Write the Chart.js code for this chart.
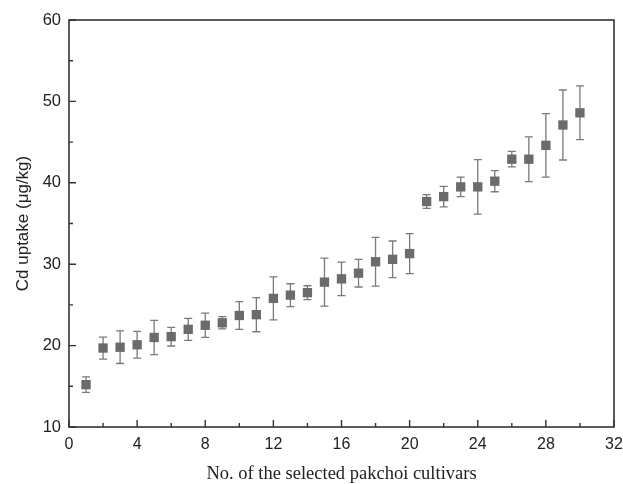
<!DOCTYPE html>
<html>
<head>
<title>Cd uptake of pakchoi cultivars</title>
<script src="https://cdn.jsdelivr.net/npm/chart.js@4.4.0/dist/chart.umd.min.js"></script>
<style>
body { margin:0; background:#fff; }
#wrap { width:623px; height:484px; }
</style>
</head>
<body>
<div id="wrap"><canvas id="c1"></canvas></div>
<script>
var cultivars = [1,2,3,4,5,6,7,8,9,10,11,12,13,14,15,16,17,18,19,20,21,22,23,24,25,26,27,28,29,30];
var uptake = [15.2,19.7,19.8,20.1,21.0,21.1,22.0,22.5,22.8,23.7,23.8,25.8,26.2,26.5,27.8,28.2,28.9,30.3,30.6,31.3,37.7,38.3,39.5,39.5,40.2,42.9,42.9,44.6,47.1,48.6];
var sd = [0.95,1.35,2.0,1.65,2.1,1.15,1.35,1.5,0.75,1.7,2.1,2.65,1.4,0.85,2.95,2.05,1.7,3.0,2.25,2.45,0.85,1.25,1.2,3.35,1.3,0.95,2.75,3.9,4.3,3.3];
var xTicks = [0,4,8,12,16,20,24,28,32];
var yTicks = [10,20,30,40,50,60];

var pts = [];
for (var i = 0; i < cultivars.length; i++) {
  pts.push({x: cultivars[i], y: uptake[i]});
}

// error bars, drawn under the squares
var errorBars = {
  id: 'errorBars',
  beforeDatasetsDraw: function(chart) {
    var ctx = chart.ctx, xs = chart.scales.x, ys = chart.scales.y;
    ctx.save();
    ctx.strokeStyle = '#7a7a7a';
    ctx.lineWidth = 1.3;
    for (var i = 0; i < cultivars.length; i++) {
      var px = xs.getPixelForValue(cultivars[i]);
      var top = ys.getPixelForValue(uptake[i] + sd[i]);
      var bot = ys.getPixelForValue(uptake[i] - sd[i]);
      ctx.beginPath();
      ctx.moveTo(px, top); ctx.lineTo(px, bot);
      ctx.moveTo(px - 4, top); ctx.lineTo(px + 4, top);
      ctx.moveTo(px - 4, bot); ctx.lineTo(px + 4, bot);
      ctx.stroke();
    }
    ctx.restore();
  }
};

// frame and inward ticks
var frame = {
  id: 'frame',
  afterDraw: function(chart) {
    var ctx = chart.ctx, a = chart.chartArea, xs = chart.scales.x, ys = chart.scales.y;
    ctx.save();
    ctx.strokeStyle = '#333';
    ctx.lineWidth = 1.6;
    ctx.strokeRect(a.left, a.top, a.right - a.left, a.bottom - a.top);
    ctx.lineWidth = 1.4;
    ctx.beginPath();
    for (var v = 0; v <= 32; v += 2) {
      var px = xs.getPixelForValue(v);
      var len = (v % 4 == 0) ? 7 : 4;
      ctx.moveTo(px, a.bottom); ctx.lineTo(px, a.bottom - len);
    }
    for (var w = 10; w <= 60; w += 5) {
      var py = ys.getPixelForValue(w);
      var len2 = (w % 10 == 0) ? 7 : 4;
      ctx.moveTo(a.left, py); ctx.lineTo(a.left + len2, py);
    }
    ctx.stroke();
    ctx.restore();
  }
};

var ctx = document.getElementById('c1').getContext('2d');
var chart = new Chart(ctx, {
  type: 'scatter',
  data: {
    datasets: [{
      label: 'Cd uptake',
      data: pts,
      pointStyle: 'rect',
      pointRadius: 6.6,
      pointHoverRadius: 6.6,
      backgroundColor: '#6b6b6d',
      borderColor: '#6b6b6d',
      borderWidth: 0
    }]
  },
  options: {
    responsive: true,
    maintainAspectRatio: false,
    animation: false,
    layout: { padding: { top: 20, right: 9, left: 0, bottom: 0 } },
    plugins: { legend: { display: false }, tooltip: { enabled: false } },
    scales: {
      x: {
        type: 'linear',
        min: 0, max: 32,
        afterBuildTicks: function(s) { s.ticks = xTicks.map(function(v) { return {value: v}; }); },
        afterFit: function(s) { s.height = 57; s.paddingRight = 0; s.paddingLeft = 0; },
        grid: { display: false, drawTicks: false },
        border: { display: false },
        ticks: { color: '#222', padding: 8, font: { family: 'Liberation Sans', size: 16 } },
        title: { display: true, text: 'No. of the selected pakchoi cultivars', color: '#222', padding: { top: 11, bottom: -1 },
                 font: { family: 'Liberation Serif', size: 18.5 } }
      },
      y: {
        type: 'linear',
        min: 10, max: 60,
        afterBuildTicks: function(s) { s.ticks = yTicks.map(function(v) { return {value: v}; }); },
        afterFit: function(s) { s.width = 69; s.paddingTop = 0; s.paddingBottom = 0; },
        grid: { display: false, drawTicks: false },
        border: { display: false },
        ticks: { color: '#222', padding: 8, font: { family: 'Liberation Sans', size: 16.5 } },
        title: { display: true, text: 'Cd uptake (μg/kg)', color: '#222', padding: { top: 13, bottom: 4 },
                 font: { family: 'Liberation Sans', size: 17 } }
      }
    }
  },
  plugins: [errorBars, frame]
});
</script>
</body>
</html>
